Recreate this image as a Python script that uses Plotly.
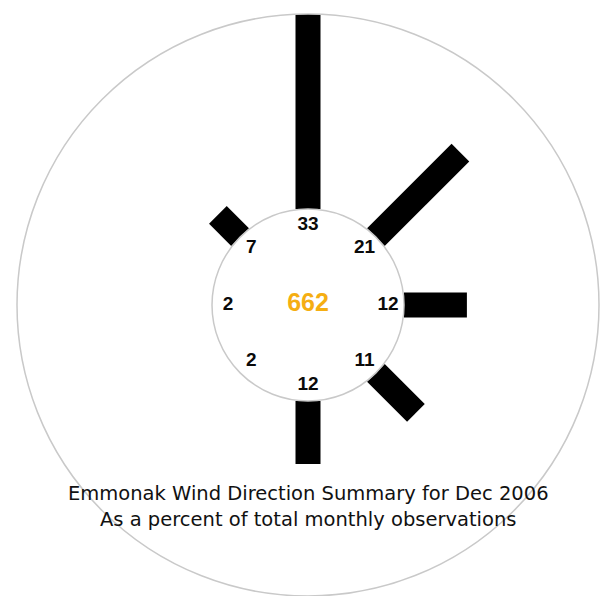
import plotly.graph_objects as go

# Wind direction frequencies (% of monthly observations)
directions = ["N", "NE", "E", "SE", "S", "SW", "W", "NW"]
percent = [33, 21, 12, 11, 12, 2, 2, 7]
total_obs = 662

title_line1 = "Emmonak Wind Direction Summary for Dec 2006"
title_line2 = "As a percent of total monthly observations"

RADIAL_MIN = 2       # bars grow outward from the inner ring
RADIAL_MAX = 33
LABEL_R = 0.275      # ring of value labels inside the hole (polar2 units)
BAR_WIDTH = 25
RING_COLOR = "#c9c9c9"

W, H = 602, 596
cx, cy, R = 308, 305, 291  # centre and outer radius in pixels (from top-left)
dom_x = [(cx - R) / W, (cx + R) / W]
dom_y = [(H - cy - R) / H, (H - cy + R) / H]

fig = go.Figure()

# One thick radial stroke per direction
for d, p in zip(directions, percent):
    fig.add_trace(go.Scatterpolar(
        r=[RADIAL_MIN, p], theta=[d, d], mode="lines",
        line=dict(color="black", width=BAR_WIDTH),
        hoverinfo="skip", showlegend=False, subplot="polar",
    ))

# Value labels around the inner ring
fig.add_trace(go.Scatterpolar(
    r=[LABEL_R] * len(directions), theta=directions, mode="text",
    text=[str(p) for p in percent],
    textfont=dict(family="Liberation Sans", size=19, color="#0a0a0a", weight="bold"),
    textposition="middle center",
    hoverinfo="skip", showlegend=False, subplot="polar2",
))

# Observation count in the centre
fig.add_trace(go.Scatterpolar(
    r=[0], theta=["N"], mode="text", text=[str(total_obs)],
    textfont=dict(family="Liberation Sans", size=25, color="#F5AE12", weight="bold"),
    textposition="middle center",
    hoverinfo="skip", showlegend=False, subplot="polar2",
))

hidden_radial = dict(visible=True, showline=False, showticklabels=False,
                     showgrid=False, ticks="")

fig.update_layout(
    width=W, height=H,
    margin=dict(l=0, r=0, t=0, b=0),
    paper_bgcolor="white",
    plot_bgcolor="white",
    polar=dict(
        domain=dict(x=dom_x, y=dom_y),
        hole=96 / R,
        bgcolor="rgba(0,0,0,0)",
        radialaxis=dict(range=[RADIAL_MIN, RADIAL_MAX], **hidden_radial),
        angularaxis=dict(type="category", categoryarray=directions,
                         direction="clockwise", rotation=90,
                         showline=True, linecolor=RING_COLOR, linewidth=1.5,
                         showgrid=False, showticklabels=False, ticks=""),
    ),
    polar2=dict(
        domain=dict(x=dom_x, y=dom_y),
        bgcolor="rgba(0,0,0,0)",
        radialaxis=dict(range=[0, 1], **hidden_radial),
        angularaxis=dict(type="category", categoryarray=directions,
                         direction="clockwise", rotation=90,
                         showline=False, showgrid=False,
                         showticklabels=False, ticks=""),
    ),
    annotations=[
        dict(text=title_line1, x=cx / W, y=(H - 493) / H, xref="paper", yref="paper",
             xanchor="center", yanchor="middle", showarrow=False,
             font=dict(family="DejaVu Sans", size=19.5, color="#111111")),
        dict(text=title_line2, x=cx / W, y=(H - 519) / H, xref="paper", yref="paper",
             xanchor="center", yanchor="middle", showarrow=False,
             font=dict(family="DejaVu Sans", size=19.5, color="#111111")),
    ],
)

fig.write_html("out.html")
